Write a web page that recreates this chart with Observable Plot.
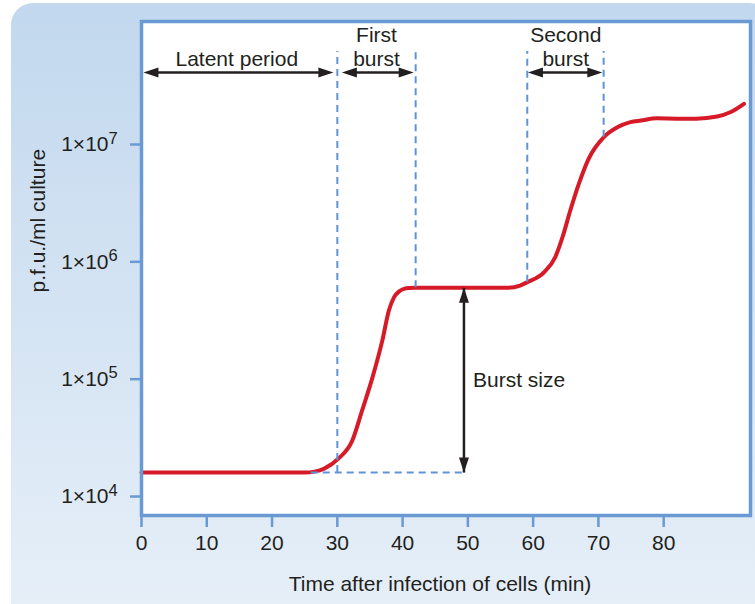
<!DOCTYPE html>
<html>
<head>
<meta charset="utf-8">
<script src="https://cdn.jsdelivr.net/npm/d3@7"></script>
<script src="https://cdn.jsdelivr.net/npm/@observablehq/plot@0.6"></script>
<style>
  html, body { margin: 0; padding: 0; background: #ffffff; }
  #wrap { position: relative; width: 755px; height: 604px; overflow: hidden; }
  #panel { position: absolute; left: 11px; top: 3px; width: 760px; height: 640px;
           border-radius: 22px; background: linear-gradient(#c2d8ee, #e6eff8 95%); }
  #chart { position: absolute; left: 0; top: 0; }
</style>
</head>
<body>
<div id="wrap"><div id="panel"></div><div id="chart"></div></div>
<script>
// ---- data ----
const times = [0, 25, 26.5, 28, 30.2, 32.3, 33.8, 35.4, 36.9, 37.9, 38.7, 39.5, 40.2, 41, 42, 56, 58, 59.1, 61.7, 63.4, 64.5, 65.7, 67.0, 68.5, 70.8, 72.9, 74.9, 76.5, 79, 82, 85, 88.2, 90.2, 92.3];
const pfu = [1.6e4, 1.6e4, 1.63e4, 1.73e4, 2.11e4, 3.0e4, 5.41e4, 1.04e5, 2.14e5, 3.85e5, 5.0e5, 5.62e5, 5.89e5, 5.98e5, 6.0e5, 6.0e5, 6.28e5, 6.7e5, 8.17e5, 1.1e6, 1.62e6, 2.75e6, 4.62e6, 7.55e6, 1.15e7, 1.4e7, 1.55e7, 1.6e7, 1.67e7, 1.66e7, 1.66e7, 1.73e7, 1.88e7, 2.22e7];

const xTicks = [0, 10, 20, 30, 40, 50, 60, 70, 80];
const yExponents = [4, 5, 6, 7];
const yTickBase = "1×10";

const phaseLabels = ["Latent period", "First\nburst", "Second\nburst"];
const phaseStart = [0.3, 30.7, 59.2];
const phaseEnd = [29.4, 41.7, 70.6];
const phaseMid = [14.6, 36, 65];
const phaseArrowLevel = 4.1e7;

const dashX = [30, 42, 59.1, 70.8];
const dashBottom = [1.6e4, 6.0e5, 6.7e5, 1.15e7];
const dashTop = 6.2e7;
const baselineDash = {x1: 26, x2: 49.4, y: 1.6e4};

const burstX = 49.4;
const burstLow = 1.6e4;
const burstHigh = 6.0e5;
const burstLabel = "Burst size";

const xTitle = "Time after infection of cells (min)";
const yTitle = "p.f.u./ml culture";

// ---- build ----
const curve = times.map((t, i) => ({t, v: pfu[i]}));
const yTicks = yExponents.map(e => 10 ** e);
const phases = phaseLabels.map((label, i) => ({label, x1: phaseStart[i], x2: phaseEnd[i], mid: phaseMid[i]}));
const dashes = dashX.map((x, i) => ({x, y1: dashBottom[i], y2: dashTop}));

const ink = "#231f20";
const blue = "#6a9ad4";
const dashBlue = "#5f93d8";
const red = "#d61a28";
const font = "'Liberation Sans', Arial, Helvetica, sans-serif";
const fs = 21;

const chart = Plot.plot({
  width: 755,
  height: 604,
  marginLeft: 141,
  marginRight: 5,
  marginTop: 21,
  marginBottom: 89,
  style: {fontFamily: font, fontSize: fs + "px", color: ink, background: "transparent", overflow: "visible"},
  x: {domain: [0, 93.3]},
  y: {type: "log", domain: [6890, 1.117e8]},
  marks: [
    Plot.frame({fill: "white", stroke: "none"}),
    // axes
    Plot.axisX(xTicks, {tickSize: 12, tickPadding: 8, stroke: blue, strokeWidth: 2.5, fill: ink, fontSize: fs, label: null}),
    Plot.axisY(yTicks, {tickSize: 11, tickPadding: 22, stroke: blue, strokeWidth: 2.5, fill: ink, fontSize: fs, label: null,
      tickFormat: () => yTickBase}),
    Plot.text(yExponents, {y: d => 10 ** d, text: d => String(d), frameAnchor: "left", dx: -33, dy: -6,
      textAnchor: "start", fontSize: 16.5, fill: ink}),
    // titles
    Plot.text([xTitle], {frameAnchor: "bottom", text: d => d, lineAnchor: "bottom", dy: 75, dx: -6, fontSize: fs, fill: ink}),
    Plot.text([yTitle], {frameAnchor: "left", text: d => d, rotate: -90, dx: -103, dy: 24, fontSize: fs, fill: ink}),
    // growth curve
    Plot.line(curve, {x: "t", y: "v", stroke: red, strokeWidth: 4, curve: "monotone-x", strokeLinecap: "round"}),
    // dashed guides
    Plot.ruleX(dashes, {x: "x", y1: "y1", y2: "y2", stroke: dashBlue, strokeWidth: 2, strokeDasharray: "7,5"}),
    Plot.ruleY([baselineDash], {x1: "x1", x2: "x2", y: "y", stroke: dashBlue, strokeWidth: 2, strokeDasharray: "7,5"}),
    // phase arrows
    Plot.link(phases, {x1: d => d.x1 + 1.5, x2: d => d.x2 - 1.5, y1: phaseArrowLevel, y2: phaseArrowLevel, stroke: ink, strokeWidth: 2.5}),
    Plot.vector(phases, {x: "x2", y: () => phaseArrowLevel, rotate: 90, anchor: "end", shape: "spike", length: 15, r: 5, fill: ink, stroke: "none"}),
    Plot.vector(phases, {x: "x1", y: () => phaseArrowLevel, rotate: -90, anchor: "end", shape: "spike", length: 15, r: 5, fill: ink, stroke: "none"}),
    Plot.text(phases, {x: "mid", y: () => phaseArrowLevel, text: "label", lineAnchor: "bottom", dy: -7, lineHeight: 1.1, fontSize: fs, fill: ink}),
    // burst size arrow
    Plot.link([{x: burstX}], {x1: "x", x2: "x", y1: burstLow, y2: burstHigh, stroke: ink, strokeWidth: 2.5}),
    Plot.vector([{x: burstX, y: burstHigh}], {x: "x", y: "y", rotate: 0, anchor: "end", shape: "spike", length: 15, r: 5, fill: ink, stroke: "none"}),
    Plot.vector([{x: burstX, y: burstLow}], {x: "x", y: "y", rotate: 180, anchor: "end", shape: "spike", length: 15, r: 5, fill: ink, stroke: "none"}),
    Plot.text([burstLabel], {x: () => burstX, y: () => Math.sqrt(burstLow * burstHigh), text: d => d, textAnchor: "start", dx: 9, fontSize: fs, fill: ink}),
    // frame border
    Plot.frame({stroke: blue, strokeWidth: 3.5})
  ]
});
document.getElementById("chart").appendChild(chart);
</script>
</body>
</html>
